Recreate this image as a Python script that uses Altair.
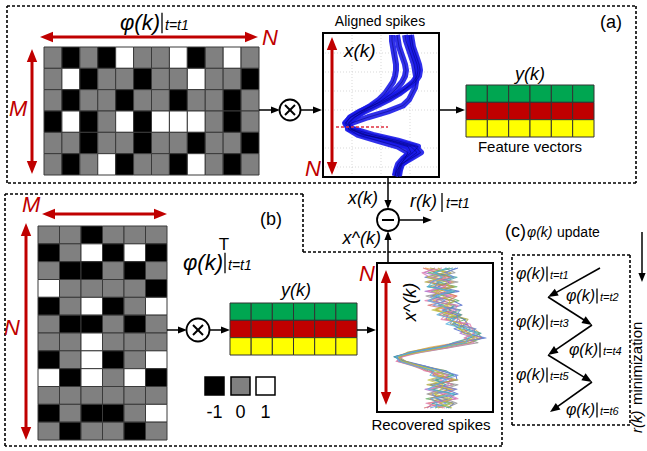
import math
import altair as alt
import pandas as pd

W, H = 647, 451
FONT = "Liberation Sans"
RED = "#c00000"

# measurement matrix phi(k) at t = t1, entries in {-1, 0, 1}
phi_rows = [
    [0, -1, 0, -1, 1, 0, 0, 1, -1, 0, 1, 0],
    [0, 1, -1, 0, 0, -1, 0, 0, 1, 0, 0, -1],
    [0, -1, 0, 0, -1, 0, 0, -1, 0, 0, -1, 0],
    [-1, 1, -1, 0, 1, -1, 1, 1, 1, 0, -1, 0],
    [0, 0, -1, 0, 0, -1, 0, 0, -1, 0, 0, -1],
    [0, -1, 0, 1, -1, 0, 0, -1, 1, 0, -1, 0],
]

# transposed reconstruction matrix phi(k)^T
phiT_rows = [
    [0, 0, -1, 0, 0, 0],
    [-1, 0, 1, -1, 1, -1],
    [0, -1, -1, 0, -1, 0],
    [1, 0, 0, 0, 0, -1],
    [-1, 0, 1, -1, 0, 1],
    [0, -1, -1, 0, -1, 0],
    [0, 0, 1, 0, 0, 0],
    [-1, 0, 1, -1, 0, 1],
    [1, -1, 1, 0, 1, -1],
    [0, 0, 0, 0, 0, 0],
    [-1, 0, -1, -1, 0, 1],
    [0, -1, 0, 0, -1, 0],
]

entry_values = [-1, 0, 1]
entry_colors = ["#000000", "#808080", "#ffffff"]

# feature vectors y(k): three feature rows of six entries
feature_colors = ["#00a651", "#c00000", "#ffff00"]
n_feature_cols = 6

# aligned spike waveforms (amplitude per sample)
aligned_spikes = [
    [6, 7, 8, 10, 12, 14, 15, 14, 10, 3, -6, -17, -30, -43, -53, -57, -50, -30, -5, 15, 10, 2, -2, -4, -5],
    [-11, -11, -10, -9, -8, -7, -7, -8, -10, -14, -18, -24, -32, -42, -52, -58, -54, -38, -15, 5, 8, 0, -5, -7, -8],
    [2, 3, 5, 7, 9, 11, 12, 13, 13, 12, 9, 6, 0, -15, -35, -52, -55, -45, -25, -5, 5, 2, -3, -5, -6],
    [-6, -5, -4, -2, 0, 2, 3, 2, -1, -6, -12, -20, -30, -40, -48, -54, -52, -40, -10, 12, 18, 8, -2, -6, -8],
    [8, 9, 10, 12, 14, 16, 17, 16, 12, 4, -4, -14, -26, -38, -49, -55, -52, -36, -12, 8, 14, 6, -1, -3, -4],
]

# recovered spike waveforms (amplitude per sample)
recovered_spikes = [
    [-15, 8, -6, 14, -10, 4, 16, -7, 12, -4, 20, 4, 24, 34, 40, 30, 16, -10, -30, -45, -36, -16, 6, -8, 16, -6, 13, -11, 8, -12, 3],
    [10, -12, 13, -4, 17, -9, 5, 19, -2, 21, 3, 26, 12, 20, 38, 42, 30, 8, -22, -40, -40, -24, -12, 13, -4, 14, -9, 11, -14, 10, -5],
    [18, 4, -15, 10, -2, 19, -10, 13, 22, 2, 16, 24, 28, 14, 26, 44, 18, -4, -28, -46, -34, -15, 1, 16, 17, -10, 6, 18, -4, 14, 8],
    [-5, -16, 6, -12, 13, -15, 9, -4, 0, 17, 8, 6, 27, 30, 20, 35, 24, 4, -21, -38, -41, -22, -9, -6, 10, 8, -15, 3, 16, -7, -13],
    [5, 15, -9, 18, -7, 11, -14, 2, 16, 4, 22, 13, 10, 34, 35, 25, 38, 12, -16, -44, -37, -18, -3, 9, -9, 18, 3, -13, 5, 17, 6],
    [-17, -3, 10, -9, 6, -4, 17, 8, -12, 12, -1, 19, 21, 24, 28, 42, 20, -2, -26, -40, -43, -27, -14, 0, 13, -2, 16, 4, -10, 2, -16],
    [13, -7, 17, 3, -13, 15, 0, -10, 14, 9, 21, 10, 16, 27, 41, 30, 13, 3, -24, -46, -37, -19, 6, 14, -5, 6, -7, 15, 9, -8, 11],
    [-10, 11, 3, -15, 14, 0, -7, 15, 5, -5, 11, 28, 24, 20, 24, 38, 30, -6, -32, -41, -34, -21, -8, -3, 18, -13, 10, -4, -5, 13, -2],
    [2, -18, -10, 11, 3, -12, 13, -15, 18, 14, 6, 1, 30, 32, 34, 24, 34, 10, -18, -37, -44, -23, -16, 8, 0, 13, -11, 8, 18, -14, 5],
    [16, 6, 14, -2, -5, 8, -5, 5, -7, 20, 17, 18, 14, 36, 27, 46, 15, -1, -29, -43, -39, -15, 2, 18, 4, -3, 17, -8, -2, 6, -10],
    [-2, 4, -13, 6, 10, -6, 3, 10, 8, -8, 13, 8, 20, 18, 30, 34, 22, 5, -20, -42, -38, -20, -4, 4, -12, 3, 1, -6, 12, 0, 12],
    [7, -5, 2, -8, -12, 12, -3, -12, 3, 7, -3, 15, 6, 25, 37, 28, 26, 0, -27, -44, -41, -26, -6, -10, 7, -4, -12, 14, -9, -3, -4],
]
recovered_colors = ["#e8a040", "#5fae5f", "#4a66c8", "#a565c8", "#8f8f8f", "#d86a6a",
                    "#3fa3a3", "#b0a840", "#e07ab0", "#6a8ad8", "#c0c040", "#50b0e0"]

legend_labels = ["-1", "0", "1"]
update_steps = ["t1", "t2", "t3", "t4", "t5", "t6"]

HEAD = "M0,-1L0.8,1L-0.8,1Z"
layers = []


def px(field):
    return alt.X(field, scale=None, axis=None)


def py(field):
    return alt.Y(field, scale=None, axis=None)


def seg(x1, y1, x2, y2, color="black", width=1.5, dash=None):
    kw = dict(color=color, strokeWidth=width)
    if dash:
        kw["strokeDash"] = dash
    df = pd.DataFrame([{"x": x1, "y": y1, "x2": x2, "y2": y2}])
    layers.append(alt.Chart(df).mark_rule(**kw).encode(
        x=px("x:Q"), y=py("y:Q"), x2="x2:Q", y2="y2:Q"))


def head(tx, ty, ux, uy, color, length):
    ang = math.degrees(math.atan2(ux, -uy)) % 360
    df = pd.DataFrame([{"x": tx - ux * length / 2, "y": ty - uy * length / 2}])
    layers.append(alt.Chart(df).mark_point(
        shape=HEAD, size=length * length, angle=ang, filled=True,
        fill=color, color=color, opacity=1, strokeWidth=0).encode(
        x=px("x:Q"), y=py("y:Q")))


def arrow(x1, y1, x2, y2, color="black", width=1.5, length=9, both=False):
    n = math.hypot(x2 - x1, y2 - y1)
    ux, uy = (x2 - x1) / n, (y2 - y1) / n
    sx, sy = x1, y1
    if both:
        sx, sy = x1 + ux * length * 0.7, y1 + uy * length * 0.7
    seg(sx, sy, x2 - ux * length * 0.7, y2 - uy * length * 0.7, color, width)
    head(x2, y2, ux, uy, color, length)
    if both:
        head(x1, y1, -ux, -uy, color, length)


def box(x1, y1, x2, y2, fill="white", stroke="black", width=2):
    df = pd.DataFrame([{"x": x1, "y": y1, "x2": x2, "y2": y2}])
    layers.append(alt.Chart(df).mark_rect(fill=fill, stroke=stroke, strokeWidth=width).encode(
        x=px("x:Q"), y=py("y:Q"), x2="x2:Q", y2="y2:Q"))


def dashed_path(points):
    for (a, b), (c, d) in zip(points[:-1], points[1:]):
        seg(a, b, c, d, width=1.6, dash=[3, 2])


def txt(x, y, s, size=16, italic=False, color="black", align="left",
        baseline="alphabetic", angle=0):
    kw = dict(font=FONT, fontSize=size, color=color, align=align, baseline=baseline)
    if italic:
        kw["fontStyle"] = "italic"
    if angle:
        kw["angle"] = angle
    df = pd.DataFrame([{"x": x, "y": y, "t": s}])
    layers.append(alt.Chart(df).mark_text(**kw).encode(
        x=px("x:Q"), y=py("y:Q"), text="t:N"))


def phi_label(pipe_x, base_y, sub, size=22, sub_size=14, sup=None):
    txt(pipe_x - 2, base_y, "\u03c6(k)", size=size, italic=True, align="right")
    seg(pipe_x, base_y - size * 0.78, pipe_x, base_y + size * 0.15, width=1.3)
    txt(pipe_x + 3, base_y, "t=" + sub, size=sub_size, italic=True)
    if sup:
        txt(pipe_x - 1, base_y - size * 0.9, sup, size=17, align="center")


def circle(cx, cy, d, sign):
    df = pd.DataFrame([{"x": cx, "y": cy}])
    layers.append(alt.Chart(df).mark_point(
        shape="circle", size=d * d, filled=True, fill="white", stroke="black",
        strokeWidth=1.8, opacity=1).encode(x=px("x:Q"), y=py("y:Q")))
    if sign == "x":
        seg(cx - 5, cy - 5, cx + 5, cy + 5, width=2)
        seg(cx - 5, cy + 5, cx + 5, cy - 5, width=2)
    else:
        seg(cx - 6, cy, cx + 6, cy, width=2)


def matrix(rows, x0, x1, y0, y1):
    nr, nc = len(rows), len(rows[0])
    df = pd.DataFrame([{"r": i, "c": j, "v": v}
                       for i, row in enumerate(rows) for j, v in enumerate(row)])
    layers.append(alt.Chart(df).mark_rect(stroke="#3a3a3a", strokeWidth=1).transform_calculate(
        c2="datum.c + 1", r2="datum.r + 1").encode(
        x=alt.X("c:Q", scale=alt.Scale(domain=[0, nc], range=[x0, x1], nice=False, zero=False), axis=None),
        x2="c2:Q",
        y=alt.Y("r:Q", scale=alt.Scale(domain=[0, nr], range=[y0, y1], nice=False, zero=False), axis=None),
        y2="r2:Q",
        fill=alt.Fill("v:N", scale=alt.Scale(domain=entry_values, range=entry_colors), legend=None)))


def features(x0, x1, y0, y1):
    df = pd.DataFrame([{"r": i, "c": j, "col": feature_colors[i]}
                       for i in range(len(feature_colors)) for j in range(n_feature_cols)])
    layers.append(alt.Chart(df).mark_rect(stroke="#333333", strokeWidth=1).transform_calculate(
        c2="datum.c + 1", r2="datum.r + 1").encode(
        x=alt.X("c:Q", scale=alt.Scale(domain=[0, n_feature_cols], range=[x0, x1], nice=False, zero=False), axis=None),
        x2="c2:Q",
        y=alt.Y("r:Q", scale=alt.Scale(domain=[0, len(feature_colors)], range=[y0, y1], nice=False, zero=False), axis=None),
        y2="r2:Q",
        fill=alt.Fill("col:N", scale=None)))


def spikes(traces, amp_dom, x_rng, y_rng, colors, width, opacity):
    n = len(traces[0])
    df = pd.DataFrame([{"trace": k, "t": i, "amp": a}
                       for k, tr in enumerate(traces) for i, a in enumerate(tr)])
    layers.append(alt.Chart(df).mark_line(strokeWidth=width, opacity=opacity, strokeJoin="round").encode(
        x=alt.X("amp:Q", scale=alt.Scale(domain=amp_dom, range=x_rng, nice=False, zero=False), axis=None),
        y=alt.Y("t:Q", scale=alt.Scale(domain=[0, n - 1], range=y_rng, nice=False, zero=False), axis=None),
        detail="trace:N",
        order="t:Q",
        color=alt.Color("trace:N", scale=alt.Scale(domain=list(range(len(traces))), range=colors), legend=None)))


# ---- dashed panel outlines ----
dashed_path([(7, 6), (636, 6), (636, 183), (7, 183), (7, 6)])
dashed_path([(5, 194), (303, 194), (303, 252), (502, 252), (502, 446), (5, 446), (5, 194)])
dashed_path([(512, 255), (630, 255), (630, 425), (512, 425), (512, 255)])

# ---- (a) sensing ----
matrix(phi_rows, 44, 259, 47, 175)
phi_label(162, 30, "t1")
arrow(40, 37, 258, 37, color=RED, width=3, length=13, both=True)
arrow(32, 49, 32, 174, color=RED, width=3, length=13, both=True)
txt(262, 45, "N", size=22, italic=True, color=RED)
txt(9, 116, "M", size=22, italic=True, color=RED)

arrow(259, 110, 280, 110)
circle(290, 110, 21, "x")
arrow(300, 110, 322, 110)

box(323, 33, 439, 177)
for gy in [53, 72, 91, 110, 148, 167]:
    seg(325, gy, 437, gy, color="#cfcfcf", width=0.8, dash=[1, 2])
for gx in [352, 381, 410]:
    seg(gx, 35, gx, 175, color="#cfcfcf", width=0.8, dash=[1, 2])
spikes(aligned_spikes, [-80, 36], [323, 439], [35, 176], ["#1a1ae8"] * 5, 6, 0.9)
spikes(aligned_spikes, [-80, 36], [323, 439], [35, 176], ["#00006e"] * 5, 0.8, 0.6)
seg(336, 127, 388, 127, color="#e03040", width=1.6, dash=[3, 2])
arrow(332, 37, 332, 175, color=RED, width=3, length=13, both=True)
txt(344, 57, "x(k)", size=19, italic=True)
txt(305, 176, "N", size=22, italic=True, color=RED)
txt(380, 26, "Aligned spikes", size=14, align="center")
txt(600, 28, "(a)", size=18)

arrow(439, 110, 465, 110)
features(466, 594, 85, 137)
txt(530, 80, "y(k)", size=18, italic=True, align="center")
txt(530, 152, "Feature vectors", size=15, align="center")

# ---- residual ----
arrow(388, 177, 388, 209)
circle(388, 220, 22, "-")
arrow(399, 220, 432, 220)
arrow(388, 263, 388, 231)
txt(378, 204, "x(k)", size=18, italic=True, align="right")
txt(410, 207, "r(k)", size=18, italic=True)
seg(442, 193, 442, 212, width=1.3)
txt(446, 208, "t=t1", size=14, italic=True)
txt(381, 244, "x^(k)", size=18, italic=True, align="right")

# ---- (b) reconstruction ----
matrix(phiT_rows, 38, 167, 226, 440)
arrow(42, 214, 167, 214, color=RED, width=3, length=13, both=True)
arrow(26, 223, 26, 440, color=RED, width=3, length=13, both=True)
txt(22, 212, "M", size=22, italic=True, color=RED)
txt(4, 335, "N", size=22, italic=True, color=RED)
phi_label(225, 270, "t1", sup="T")
txt(260, 225, "(b)", size=18)

arrow(167, 330, 187, 330)
circle(198, 330, 23, "x")
arrow(210, 330, 230, 330)
features(230, 357, 303, 355)
txt(296, 296, "y(k)", size=18, italic=True, align="center")
arrow(357, 330, 376, 330)

box(377, 263, 493, 412)
spikes(recovered_spikes, [-63, 53], [377, 493], [268, 408], recovered_colors, 1.1, 0.8)
arrow(386, 270, 386, 405, color=RED, width=3, length=13, both=True)
txt(359, 281, "N", size=22, italic=True, color=RED)
txt(411, 302, "x^(k)", size=18, italic=True, align="center", baseline="middle", angle=270)
txt(431, 430, "Recovered spikes", size=15, align="center")

# legend of matrix entries
for k, (lab, col) in enumerate(zip(legend_labels, entry_colors)):
    x0 = [205, 231, 256][k]
    box(x0, 377, x0 + 19, 395, fill=col, stroke="black", width=1.5)
    txt(x0 + 9.5, 418, lab, size=18, align="center")

# ---- (c) update ----
txt(505, 237, "(c)", size=18)
txt(527, 237, "\u03c6(k)", size=14, italic=True)
txt(557, 237, "update", size=14)
arrow(642, 232, 642, 282)
txt(637, 433, "r(k)", size=15, italic=True, baseline="middle", angle=270)
txt(637, 405, "minimization", size=15, baseline="middle", angle=270)

zig = [(600, 268), (548, 297), (592, 325), (548, 355), (592, 382), (550, 412)]
for (a, b), (c, d) in zip(zig[:-1], zig[1:]):
    arrow(a, b, c, d, width=1.6, length=10)
label_pos = [(547, 279), (597, 301), (547, 327), (600, 355), (547, 380), (597, 415)]
for (pxx, pyy), step in zip(label_pos, update_steps):
    phi_label(pxx, pyy, step, size=16, sub_size=11)

chart = alt.layer(*layers).resolve_scale(
    x="independent", y="independent", fill="independent", color="independent"
).properties(
    width=W, height=H, padding=0, background="white",
    autosize=alt.AutoSizeParams(type="none"),
).configure_view(strokeWidth=0)

chart.save("out.html", embed_options={"renderer": "svg", "actions": False})
